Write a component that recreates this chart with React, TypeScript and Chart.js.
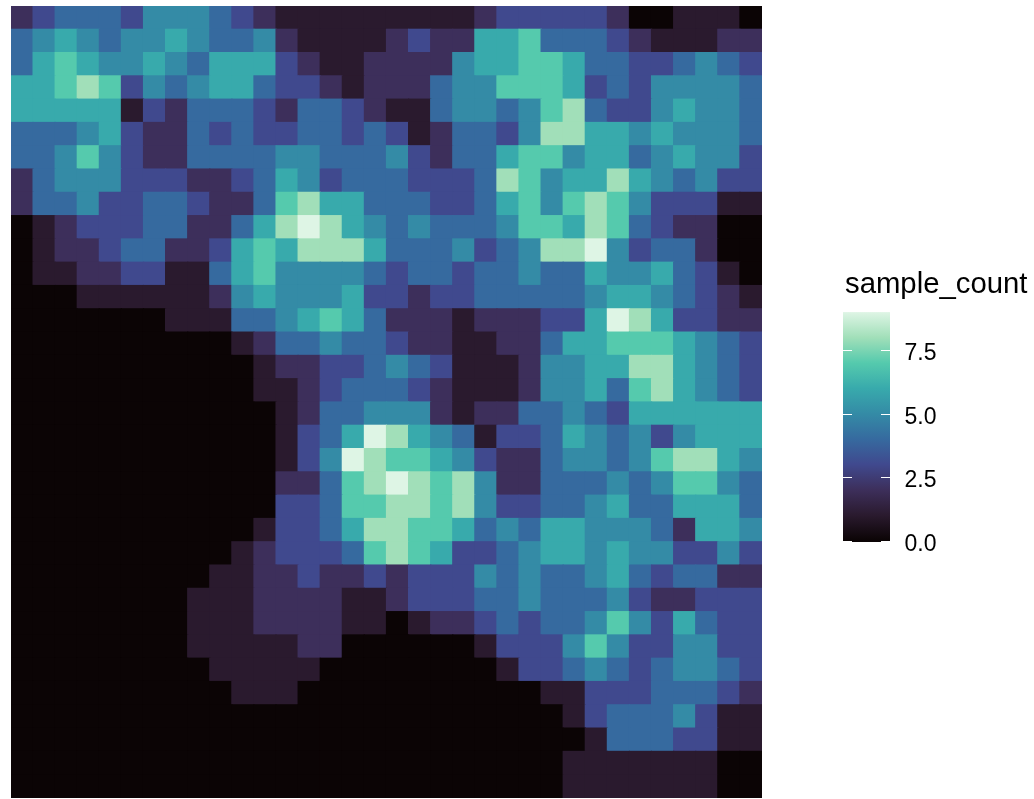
import React, { useEffect, useRef } from "react";
import { Chart, registerables } from "chart.js";

Chart.register(...registerables);

const columns: number[] = Array.from({ length: 34 }, (_, i) => i + 1);

const sampleCount: number[][] = [
  [2,3,4,4,4,3,5,5,5,4,3,2,1,1,1,1,1,1,1,1,1,2,3,3,3,3,3,2,0,0,1,1,1,0],
  [4,5,6,5,4,5,5,6,5,4,4,5,2,1,1,1,1,2,3,2,2,6,6,7,4,4,4,3,2,1,1,1,2,2],
  [4,6,7,6,5,5,6,5,4,6,6,6,3,2,1,1,2,2,2,2,5,6,6,7,7,6,4,4,3,3,4,5,4,3],
  [6,6,7,8,7,3,5,4,5,6,6,4,3,3,2,1,2,2,2,4,5,5,7,7,7,6,3,4,3,5,5,5,5,4],
  [6,6,6,6,6,1,3,2,4,4,4,3,2,4,4,3,2,1,1,4,5,5,4,5,7,8,4,3,3,5,6,5,5,4],
  [4,4,4,5,6,3,2,2,4,3,4,3,3,4,4,3,4,3,1,2,4,4,3,5,8,8,6,6,5,6,5,5,5,4],
  [4,4,5,7,5,3,2,2,4,4,4,4,5,5,4,4,4,5,3,2,4,4,6,7,7,5,6,6,4,5,6,5,5,3],
  [2,4,5,5,5,3,3,3,2,2,3,4,6,5,3,4,4,4,3,3,3,4,8,7,5,6,6,8,6,5,4,5,3,3],
  [2,4,4,5,3,3,4,4,3,2,2,4,7,8,6,6,4,4,4,3,3,4,6,7,5,7,8,7,5,3,3,3,1,1],
  [0,1,2,3,3,3,4,4,2,2,4,6,8,9,8,6,5,4,5,4,4,4,5,7,7,6,8,7,4,3,2,2,0,0],
  [0,1,2,2,3,4,4,2,2,3,6,7,6,8,8,8,6,4,4,4,5,3,4,5,8,8,9,5,3,4,4,2,0,0],
  [0,1,1,2,2,3,3,1,1,4,6,7,5,5,5,5,4,3,4,4,3,4,4,5,4,4,6,5,5,6,4,3,1,0],
  [0,0,0,1,1,1,1,1,1,2,5,6,5,5,5,6,3,3,2,3,3,4,4,4,4,4,5,6,6,5,4,3,2,1],
  [0,0,0,0,0,0,0,1,1,1,4,4,5,6,7,6,4,2,2,2,1,2,2,2,3,3,6,9,8,6,3,3,2,2],
  [0,0,0,0,0,0,0,0,0,0,1,2,4,4,5,4,4,3,2,2,1,1,2,2,4,6,6,7,7,7,6,5,4,3],
  [0,0,0,0,0,0,0,0,0,0,0,1,2,2,3,3,4,5,4,3,1,1,1,2,5,5,6,6,8,8,6,5,4,3],
  [0,0,0,0,0,0,0,0,0,0,0,1,1,2,3,4,4,4,3,2,1,1,1,2,5,5,6,4,7,8,6,5,4,3],
  [0,0,0,0,0,0,0,0,0,0,0,0,1,2,4,4,5,5,5,2,1,2,2,4,4,5,4,3,6,6,6,6,6,6],
  [0,0,0,0,0,0,0,0,0,0,0,0,1,3,4,6,9,8,6,5,4,1,3,3,4,6,5,4,5,3,5,6,6,6],
  [0,0,0,0,0,0,0,0,0,0,0,0,1,3,5,9,8,7,7,6,5,3,2,2,4,5,5,4,5,7,8,8,6,5],
  [0,0,0,0,0,0,0,0,0,0,0,0,2,2,4,7,8,9,8,7,8,5,2,2,4,4,4,5,4,5,7,7,5,4],
  [0,0,0,0,0,0,0,0,0,0,0,0,3,3,4,7,7,8,8,7,8,5,3,3,4,4,5,6,4,4,6,6,6,4],
  [0,0,0,0,0,0,0,0,0,0,0,1,3,3,4,6,8,8,7,7,6,4,5,4,6,6,5,5,5,4,2,6,6,5],
  [0,0,0,0,0,0,0,0,0,0,1,2,3,3,3,4,7,8,7,6,3,3,4,5,6,6,5,6,5,5,3,3,5,3],
  [0,0,0,0,0,0,0,0,0,1,1,2,2,3,2,2,3,2,3,3,3,5,4,5,4,4,5,6,4,3,4,4,2,2],
  [0,0,0,0,0,0,0,0,1,1,1,2,2,2,2,1,1,2,3,3,3,4,4,5,4,4,4,5,3,2,2,3,3,3],
  [0,0,0,0,0,0,0,0,1,1,1,2,2,2,2,1,1,0,1,2,2,3,4,3,4,4,5,7,5,3,6,4,3,3],
  [0,0,0,0,0,0,0,0,1,1,1,1,1,2,2,0,0,0,0,0,0,1,3,3,3,5,7,5,3,3,5,5,3,3],
  [0,0,0,0,0,0,0,0,0,1,1,1,1,1,0,0,0,0,0,0,0,0,1,3,3,4,5,4,3,4,5,5,4,3],
  [0,0,0,0,0,0,0,0,0,0,1,1,1,0,0,0,0,0,0,0,0,0,0,0,1,1,3,3,3,4,4,4,3,2],
  [0,0,0,0,0,0,0,0,0,0,0,0,0,0,0,0,0,0,0,0,0,0,0,0,0,1,3,4,4,4,5,3,1,1],
  [0,0,0,0,0,0,0,0,0,0,0,0,0,0,0,0,0,0,0,0,0,0,0,0,0,0,1,4,4,4,3,3,1,1],
  [0,0,0,0,0,0,0,0,0,0,0,0,0,0,0,0,0,0,0,0,0,0,0,0,0,1,1,1,1,1,1,1,0,0],
  [0,0,0,0,0,0,0,0,0,0,0,0,0,0,0,0,0,0,0,0,0,0,0,0,0,1,1,1,1,1,1,1,0,0],
];

const levelColours: string[] = [
  "#0b0405", "#2a1a2e", "#3d2f5b", "#40498e", "#366a9f",
  "#348ba6", "#38aaac", "#55caad", "#a1dfb9", "#def5e5",
];

const legendTitle = "sample_count";
const legendTicks: number[] = [0, 2.5, 5, 7.5];

const colourbarPlugin = {
  id: "colourbar",
  afterDraw(chart: Chart) {
    const ctx = chart.ctx;
    const left = 843;
    const right = 890;
    const zero = 540.7;
    const unit = 25.4;
    const maxValue = 9;
    const top = zero - unit * maxValue;
    const gradient = ctx.createLinearGradient(0, zero, 0, top);
    levelColours.forEach((c, i) => gradient.addColorStop(i / maxValue, c));
    ctx.save();
    ctx.fillStyle = gradient;
    ctx.fillRect(left, top, right - left, 542 - top);
    ctx.strokeStyle = "#ffffff";
    ctx.lineWidth = 1;
    ctx.fillStyle = "#000000";
    ctx.textAlign = "left";
    ctx.textBaseline = "middle";
    ctx.font = '23px "Liberation Sans"';
    legendTicks.forEach((t) => {
      const y = Math.round(zero - unit * t) + 0.5;
      ctx.beginPath();
      ctx.moveTo(left, y);
      ctx.lineTo(left + 9, y);
      ctx.moveTo(right - 9, y);
      ctx.lineTo(right, y);
      ctx.stroke();
      ctx.fillText(t.toFixed(1), 904.5, y + 3);
    });
    ctx.font = '29.3px "Liberation Sans"';
    ctx.fillText(legendTitle, 845, 285);
    ctx.restore();
  },
};

export default function App() {
  const ref = useRef<HTMLCanvasElement | null>(null);
  useEffect(() => {
    if (!ref.current) return;
    const rowsBottomUp = [...sampleCount].reverse();
    const chart = new Chart(ref.current, {
      type: "bar",
      data: {
        labels: columns,
        datasets: rowsBottomUp.map((row) => ({
          data: row.map(() => 1),
          backgroundColor: row.map((v) => levelColours[v]),
          barPercentage: 1,
          categoryPercentage: 1,
          borderWidth: 0,
          inflateAmount: 0.6,
          stack: "grid",
        })),
      },
      options: {
        responsive: false,
        animation: false,
        layout: { padding: { left: 11, top: 6, right: 272, bottom: 1 } },
        plugins: { legend: { display: false }, tooltip: { enabled: false } },
        scales: {
          x: { stacked: true, display: false },
          y: { stacked: true, display: false, min: 0, max: sampleCount.length },
        },
      },
      plugins: [colourbarPlugin],
    });
    return () => chart.destroy();
  }, []);
  return (
    <div style={{ position: "absolute", left: 0, top: 0, width: 1034, height: 799, background: "#fff" }}>
      <canvas ref={ref} width={1034} height={799} style={{ display: "block" }} />
    </div>
  );
}
